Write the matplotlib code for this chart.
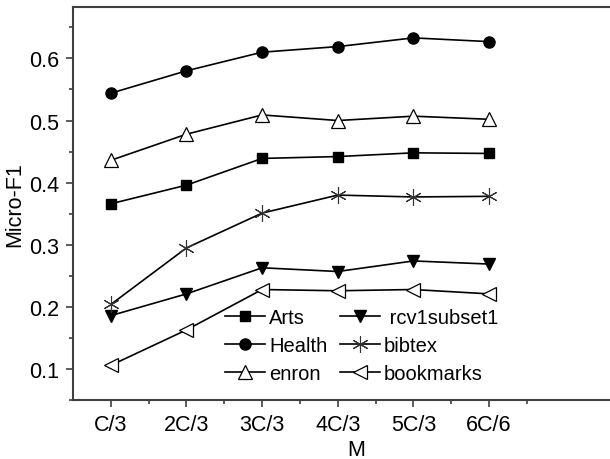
import matplotlib
matplotlib.use('Agg')
import matplotlib.pyplot as plt
from matplotlib.ticker import MultipleLocator

plt.rcParams['font.family'] = ['Liberation Sans', 'DejaVu Sans']

# x categories (number of clusters M)
m_labels = ['C/3', '2C/3', '3C/3', '4C/3', '5C/3', '6C/6']

# Micro-F1 per dataset
arts = [0.366, 0.396, 0.439, 0.442, 0.448, 0.447]
health = [0.544, 0.580, 0.610, 0.619, 0.633, 0.627]
enron = [0.436, 0.478, 0.509, 0.500, 0.507, 0.502]
rcv1subset1 = [0.186, 0.221, 0.263, 0.257, 0.274, 0.269]
bibtex = [0.204, 0.295, 0.351, 0.380, 0.377, 0.378]
bookmarks = [0.106, 0.163, 0.228, 0.226, 0.228, 0.221]

fig = plt.figure(figsize=(6.1, 4.6), dpi=100)
# right edge of the box sits outside the picture, as in the original
ax = fig.add_axes([0.1197, 0.128, 0.93, 0.855])

x = list(range(len(m_labels)))
lw = 1.2
ax.plot(x, arts, '-', color='black', lw=lw, marker='s', ms=7, mfc='black', mec='black', label='Arts')
ax.plot(x, health, '-', color='black', lw=lw, marker='o', ms=8, mfc='black', mec='black', label='Health')
ax.plot(x, enron, '-', color='black', lw=lw, marker='^', ms=10, mfc='white', mec='black', mew=0.9, label='enron')
ax.plot(x, rcv1subset1, '-', color='black', lw=lw, marker='v', ms=9, mfc='black', mec='black', label=' rcv1subset1')
ax.plot(x, bibtex, '-', color='black', lw=lw, marker=(6, 2, 0), ms=12, mec='#333333', mew=0.8, label='bibtex')
ax.plot(x, bookmarks, '-', color='black', lw=lw, marker='<', ms=10, mfc='white', mec='black', mew=0.9, label='bookmarks')

ax.set_xlim(-0.5, 7.0)
ax.set_ylim(0.05, 0.683)
ax.set_xticks(x)
ax.set_xticklabels(m_labels)
ax.set_xticks([i + 0.5 for i in range(6)], minor=True)
ax.yaxis.set_major_locator(MultipleLocator(0.1))
ax.yaxis.set_minor_locator(MultipleLocator(0.05))

for s in ax.spines.values():
    s.set_linewidth(1.5)
    s.set_color('#404040')
ax.spines['right'].set_visible(False)
ax.tick_params(which='both', direction='out', top=False, right=False, color='#404040', width=1.2)
ax.tick_params(which='major', length=5, labelsize=15.5, pad=5)
ax.tick_params(which='minor', length=3)

ax.set_xlabel('M', fontsize=15.5, labelpad=3)
ax.set_ylabel('Micro-F1', fontsize=15.5, labelpad=3)

ax.legend(ncol=2, frameon=False, fontsize=14.5, loc='upper left',
          bbox_to_anchor=(0.25, 0.26), borderpad=0, handlelength=2.0,
          handletextpad=0.2, columnspacing=0.6, labelspacing=0.45)

plt.savefig('out.png', dpi=100)
